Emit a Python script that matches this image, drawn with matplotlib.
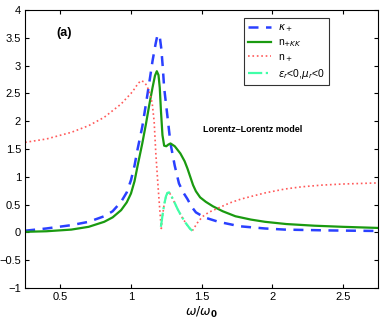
import matplotlib
matplotlib.use("Agg")
import matplotlib.pyplot as plt

plt.rcParams['font.family'] = ['Liberation Sans', 'DejaVu Sans']
plt.rcParams['mathtext.fontset'] = 'dejavusans'

# kappa_+ (imaginary part), blue dashed
x_kappa = [0.25, 0.4, 0.577, 0.7, 0.81, 0.87, 0.93, 0.97, 1.0, 1.025, 1.047,
           1.08, 1.106, 1.13, 1.153, 1.175, 1.185, 1.195, 1.205, 1.215, 1.225,
           1.235, 1.26, 1.28, 1.31, 1.34, 1.37, 1.40, 1.43, 1.46, 1.52, 1.62,
           1.77, 1.95, 2.09, 2.4, 2.75]
kappa = [0.03, 0.07, 0.13, 0.19, 0.29, 0.38, 0.55, 0.72, 0.94, 1.2, 1.5,
         1.9, 2.31, 2.7, 3.09, 3.4, 3.52, 3.56, 3.5, 3.3, 2.98,
         2.6, 2.05, 1.6, 1.2, 0.88, 0.72, 0.6, 0.46, 0.36, 0.27, 0.19,
         0.11, 0.07, 0.05, 0.035, 0.025]

# n_+KK, green solid
x_nkk = [0.25, 0.4, 0.577, 0.7, 0.81, 0.87, 0.93, 0.97, 1.0, 1.025, 1.047,
         1.08, 1.106, 1.13, 1.153, 1.17, 1.183, 1.195, 1.204, 1.212, 1.223,
         1.235, 1.25, 1.265, 1.28, 1.31, 1.35, 1.38, 1.40, 1.42, 1.44, 1.46,
         1.49, 1.53, 1.58, 1.65, 1.74, 1.85, 1.95, 2.1, 2.3, 2.5, 2.75]
nkk = [0.01, 0.02, 0.05, 0.1, 0.19, 0.27, 0.4, 0.54, 0.7, 0.92, 1.2,
       1.6, 1.95, 2.3, 2.61, 2.82, 2.9, 2.83, 2.6, 2.2, 1.75,
       1.56, 1.55, 1.58, 1.6, 1.55, 1.42, 1.28, 1.15, 1.0, 0.85, 0.74,
       0.63, 0.55, 0.47, 0.38, 0.29, 0.23, 0.19, 0.15, 0.12, 0.1, 0.08]

# n_+ (real part), red dotted
x_n = [0.25, 0.4, 0.577, 0.7, 0.81, 0.93, 0.97, 1.0, 1.03, 1.047, 1.07,
       1.09, 1.11, 1.13, 1.15, 1.164, 1.176, 1.192, 1.206, 1.215, 1.223,
       1.235, 1.248, 1.258, 1.27, 1.285, 1.31, 1.33, 1.36, 1.39, 1.42,
       1.435, 1.47, 1.505, 1.55, 1.62, 1.7, 1.78, 1.857, 1.95, 2.09, 2.21,
       2.35, 2.5, 2.75]
n = [1.62, 1.68, 1.8, 1.92, 2.07, 2.31, 2.42, 2.5, 2.6, 2.67, 2.73,
     2.71, 2.65, 2.53, 2.33, 2.0, 1.42, 0.82, 0.34, 0.07, 0.3,
     0.5, 0.65, 0.71, 0.72, 0.66, 0.53, 0.42, 0.28, 0.16, 0.06,
     0.03, 0.17, 0.28, 0.36, 0.44, 0.53, 0.6, 0.65, 0.71, 0.78, 0.82,
     0.85, 0.87, 0.89]

# region where eps_r<0 and mu_r<0, cyan dash-dot
x_neg = [1.212, 1.223, 1.235, 1.248, 1.258, 1.27, 1.285, 1.31, 1.33, 1.36,
         1.39, 1.42, 1.435]
n_neg = [0.1, 0.3, 0.5, 0.65, 0.71, 0.72, 0.66, 0.53, 0.42, 0.28,
         0.16, 0.06, 0.03]

fig = plt.figure(figsize=(3.81, 3.25), dpi=100)
ax = fig.add_axes([0.066, 0.114, 0.926, 0.855])

ax.plot(x_kappa, kappa, '--', color='#2a40ff', lw=1.8, dashes=(4, 3), label=r'$\kappa_+$')
ax.plot(x_nkk, nkk, '-', color='#1a9a10', lw=1.6, label=r'n$_{+KK}$')
ax.plot(x_n, n, ':', color='#ff5a5a', lw=1.2, label=r'n$_+$')
ax.plot(x_neg, n_neg, '-.', color='#40ffa8', lw=1.6, label=r'$\epsilon_r$<0,$\mu_r$<0')

ax.set_xlim(0.25, 2.75)
ax.set_ylim(-1, 4)
ax.set_xticks([0.5, 1, 1.5, 2, 2.5])
ax.set_xticklabels(['0.5', '1', '1.5', '2', '2.5'])
ax.set_yticks([-1, -0.5, 0, 0.5, 1, 1.5, 2, 2.5, 3, 3.5, 4])
ax.set_yticklabels(['\u22121', '\u22120.5', '0', '0.5', '1', '1.5', '2',
                    '2.5', '3', '3.5', '4'])
ax.tick_params(direction='in', top=True, right=True, labelsize=8, length=3, pad=3)
ax.set_xlabel(r'$\omega/\omega_\mathbf{0}$', fontsize=9, labelpad=2)

ax.text(0.47, 3.58, '(a)', fontsize=9, fontweight='bold', va='center')
ax.text(1.51, 1.85, 'Lorentz\u2013Lorentz model', fontsize=6.5, fontweight='bold', va='center')

leg = ax.legend(loc='upper right', bbox_to_anchor=(0.875, 0.99), fontsize=7.5,
                handlelength=2.2, frameon=True, fancybox=False, borderpad=0.4,
                labelspacing=0.3, handletextpad=0.6)
leg.get_frame().set_edgecolor('black')
leg.get_frame().set_linewidth(0.8)

fig.savefig('out.png', dpi=100)
